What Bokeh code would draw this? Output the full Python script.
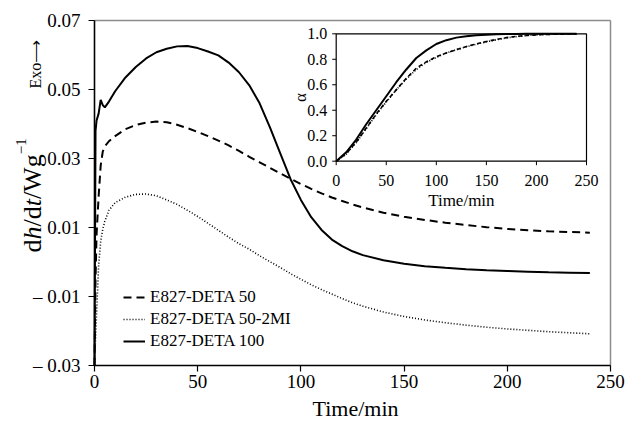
import math
from bokeh.plotting import figure
from bokeh.models import Range1d, FixedTicker, Label
from bokeh.embed import file_html
from bokeh.resources import INLINE

FONT = "Liberation Serif"

# ---------------- data ----------------
time_min = [0, 0.5, 1, 2, 3, 4, 5, 7, 10, 15, 20, 25, 30, 35, 40, 45, 50, 55, 60,
            65, 70, 75, 80, 85, 90, 95, 100, 105, 110, 115, 120, 125, 130, 140,
            150, 160, 170, 180, 190, 200, 210, 220, 230, 240]

deta50 = [-0.030, -0.005, 0.008, 0.019, 0.028, 0.032, 0.0335, 0.0350, 0.0365, 0.0385,
          0.0397, 0.0404, 0.0407, 0.0405, 0.0398, 0.0388, 0.0377, 0.0365, 0.0352,
          0.0338, 0.0322, 0.0305, 0.0289, 0.0273, 0.0257, 0.0241, 0.0226, 0.0212,
          0.0199, 0.0187, 0.0177, 0.0167, 0.0158, 0.0143, 0.0131, 0.0122, 0.0114,
          0.0107, 0.0101, 0.0096, 0.0092, 0.0089, 0.0087, 0.0085]

deta50_2mi = [-0.030, -0.022, -0.015, -0.001, 0.006, 0.0095, 0.0118, 0.0150, 0.0172,
              0.0188, 0.0196, 0.0197, 0.0192, 0.0180, 0.0167, 0.0150, 0.0132, 0.0112,
              0.0092, 0.0072, 0.0053, 0.0037, 0.0018, 0.0001, -0.0016, -0.0034,
              -0.0050, -0.0066, -0.0080, -0.0093, -0.0106, -0.0118, -0.0128, -0.0145,
              -0.0158, -0.0168, -0.0176, -0.0183, -0.0189, -0.0194, -0.0198, -0.0202,
              -0.0205, -0.0208]

deta100 = [-0.030, 0.038, 0.041, 0.043, 0.047, 0.0455, 0.0448, 0.0465, 0.0495, 0.0535,
           0.0565, 0.0590, 0.0608, 0.0618, 0.0625, 0.0626, 0.0620, 0.0610, 0.0599,
           0.0578, 0.0550, 0.0512, 0.0460, 0.0390, 0.0315, 0.0240, 0.0180, 0.0130,
           0.0093, 0.0065, 0.0046, 0.0031, 0.0020, 0.0005, -0.0005, -0.0012, -0.0017,
           -0.0021, -0.0024, -0.0026, -0.0028, -0.0030, -0.0031, -0.0032]

# inset: degree of cure alpha
inset_time = [0, 10, 20, 30, 40, 50, 60, 70, 80, 90, 100, 110, 120, 130, 140, 150,
              160, 170, 180, 190, 200, 210, 220, 230, 240]
alpha_deta50 = [0, 0.06, 0.15, 0.26, 0.37, 0.47, 0.56, 0.65, 0.73, 0.78, 0.82, 0.85,
                0.875, 0.90, 0.92, 0.94, 0.955, 0.97, 0.98, 0.987, 0.992, 0.995,
                0.997, 0.998, 0.999]
alpha_deta50_2mi = [0, 0.055, 0.145, 0.255, 0.365, 0.465, 0.56, 0.645, 0.72, 0.775,
                    0.815, 0.85, 0.875, 0.898, 0.918, 0.937, 0.953, 0.967, 0.978,
                    0.986, 0.991, 0.995, 0.997, 0.998, 0.999]
alpha_deta100 = [0, 0.07, 0.17, 0.29, 0.40, 0.51, 0.62, 0.72, 0.81, 0.87, 0.92, 0.95,
                 0.97, 0.98, 0.988, 0.993, 0.996, 0.998, 0.999, 1.0, 1.0, 1.0, 1.0,
                 1.0, 1.0]

x_ticks = [0, 50, 100, 150, 200, 250]
x_tick_labels = ["0", "50", "100", "150", "200", "250"]
y_ticks = [-0.03, -0.01, 0.01, 0.03, 0.05, 0.07]
y_tick_labels = ["\u2013 0.03", "\u2013 0.01", "0.01", "0.03", "0.05", "0.07"]
inset_y_ticks = [0.0, 0.2, 0.4, 0.6, 0.8, 1.0]
inset_y_tick_labels = ["0.0", "0.2", "0.4", "0.6", "0.8", "1.0"]
legend_labels = ["E827-DETA 50", "E827-DETA 50-2MI", "E827-DETA 100"]
x_title = "Time/min"

# ---------------- geometry (px) ----------------
W, H = 628, 423
AL, AR, AT, AB = 94.0, 610.0, 20.0, 365.0     # where the axes box sits on the page
X0, X1 = 0.0, 250.0
Y0, Y1 = -0.03, 0.07
sx = (X1 - X0) / (AR - AL)          # data units per px
sy = (Y1 - Y0) / (AB - AT)

def xd(px):
    return X0 + (px - AL) * sx

def yd(py):
    return Y0 + (AB - py) * sy

# the plot frame covers the whole canvas; axes are pinned at x=0 / y=-0.03
p = figure(width=W, height=H, output_backend="svg", toolbar_location=None,
           x_range=Range1d(xd(0), xd(W)), y_range=Range1d(yd(H), yd(0)),
           min_border=0, min_border_left=0, min_border_right=0,
           min_border_top=0, min_border_bottom=0)
p.outline_line_color = None
p.grid.visible = False
p.background_fill_color = "white"
p.border_fill_color = "white"

# gray box edges (top and right) of the main plot area
p.segment(x0=[X0, X1], y0=[Y1, Y0], x1=[X1, X1], y1=[Y1, Y1],
          line_color="#8c8c8c", line_width=1.5)

p.line(time_min, deta50, line_color="black", line_width=2, line_dash="8 5",
       legend_label=legend_labels[0])
p.line(time_min, deta50_2mi, line_color="black", line_width=1.6, line_dash="1 2",
       legend_label=legend_labels[1])
p.line(time_min, deta100, line_color="black", line_width=2,
       legend_label=legend_labels[2])

for ax in (p.xaxis[0], p.yaxis[0]):
    ax.axis_line_color = "black"
    ax.axis_line_width = 1.6
    ax.major_tick_line_color = "black"
    ax.major_tick_line_width = 1.2
    ax.major_tick_out = 6
    ax.major_tick_in = 0
    ax.minor_tick_out = 0
    ax.minor_tick_in = 0
    ax.major_label_text_font = FONT
    ax.major_label_text_font_size = "19px"
    ax.major_label_text_color = "black"

p.xaxis.fixed_location = Y0
p.xaxis.bounds = (X0, X1)
p.xaxis.ticker = FixedTicker(ticks=x_ticks)
p.xaxis.major_label_standoff = 3

p.yaxis.fixed_location = X0
p.yaxis.bounds = (Y0, Y1)
p.yaxis.ticker = FixedTicker(ticks=y_ticks)
p.yaxis.major_label_overrides = {v: s for v, s in zip(y_ticks, y_tick_labels)}
p.yaxis.major_label_standoff = 8

# x-axis title
p.add_layout(Label(x=(X0 + X1) / 2 + xd(355) - xd(352), y=yd(408), text=x_title,
                   text_font=FONT, text_font_size="22px", text_align="center",
                   text_baseline="middle", text_color="black"))

# y-axis title pieces (rotated), italic h and t
pieces = [("d", "normal", 13.0), ("h", "italic", 13.0), ("/d", "normal", 20.2),
          ("t", "italic", 7.2), ("/Wg", "normal", 44.8)]
pos = 252.0
for txt, style, w in pieces:
    p.add_layout(Label(x=xd(32), y=yd(pos), text=txt, angle=math.pi / 2,
                       text_font=FONT, text_font_size="26px", text_font_style=style,
                       text_align="left", text_baseline="alphabetic",
                       text_color="black"))
    pos -= w
p.add_layout(Label(x=xd(20), y=yd(pos), text="\u22121", angle=math.pi / 2,
                   text_font=FONT, text_font_size="15px", text_align="left",
                   text_baseline="alphabetic", text_color="black"))
p.add_layout(Label(x=xd(35), y=yd(88), text="Exo\u27f6", angle=math.pi / 2,
                   text_font=FONT, text_font_size="16px", text_align="left",
                   text_baseline="alphabetic", text_color="black"))

lg = p.legend[0]
lg.location = (123, 72)
lg.label_text_font = FONT
lg.label_text_font_size = "17px"
lg.label_text_color = "black"
lg.glyph_width = 22
lg.glyph_height = 20
lg.label_height = 20
lg.label_standoff = 5
lg.spacing = 2
lg.padding = 0
lg.margin = 0
lg.border_line_alpha = 0
lg.background_fill_alpha = 0

# ---------------- inset drawn on its own ranges ----------------
IL, IR, IT, IB = 335.7, 586.0, 33.3, 160.7   # inset box edges (px)
kx = (IR - IL) / 250.0
ky = (IB - IT) / 1.0
p.extra_x_ranges = {"ix": Range1d(-IL / kx, 250 + (W - IR) / kx)}
p.extra_y_ranges = {"iy": Range1d(-(H - IB) / ky, 1 + IT / ky)}
R = dict(x_range_name="ix", y_range_name="iy")

p.quad(left=[0], right=[250], bottom=[0], top=[1], fill_color="white",
       line_color="black", line_width=1.2, **R)
p.line(inset_time, alpha_deta50, line_color="black", line_width=1.6, line_dash="4 3", **R)
p.line(inset_time, alpha_deta50_2mi, line_color="black", line_width=1.6, line_dash="1 2", **R)
p.line(inset_time, alpha_deta100, line_color="black", line_width=2, **R)

p.ray(x=x_ticks, y=[0] * len(x_ticks), length=4, length_units="screen",
      angle=-math.pi / 2, line_color="black", line_width=1, **R)
p.ray(x=[0] * len(inset_y_ticks), y=inset_y_ticks, length=4, length_units="screen",
      angle=math.pi, line_color="black", line_width=1, **R)
p.text(x=x_ticks, y=[0] * len(x_ticks), text=x_tick_labels, y_offset=19,
       text_align="center", text_baseline="middle", text_font="Liberation Serif",
       text_font_size="16px", text_color="black", **R)
p.text(x=[0] * len(inset_y_ticks), y=inset_y_ticks, text=inset_y_tick_labels,
       x_offset=-9, text_align="right", text_baseline="middle",
       text_font="Liberation Serif", text_font_size="16px", text_color="black", **R)
p.text(x=[125], y=[0], text=[x_title], y_offset=39, text_align="center",
       text_baseline="middle", text_font="Liberation Serif", text_font_size="17px",
       text_color="black", **R)
p.text(x=[0], y=[0.5], text=["\u03b1"], x_offset=-36, angle=math.pi / 2,
       text_align="center", text_baseline="middle", text_font="Liberation Serif",
       text_font_size="17px", text_color="black", **R)

open("out.html", "w").write(file_html(p, INLINE))
